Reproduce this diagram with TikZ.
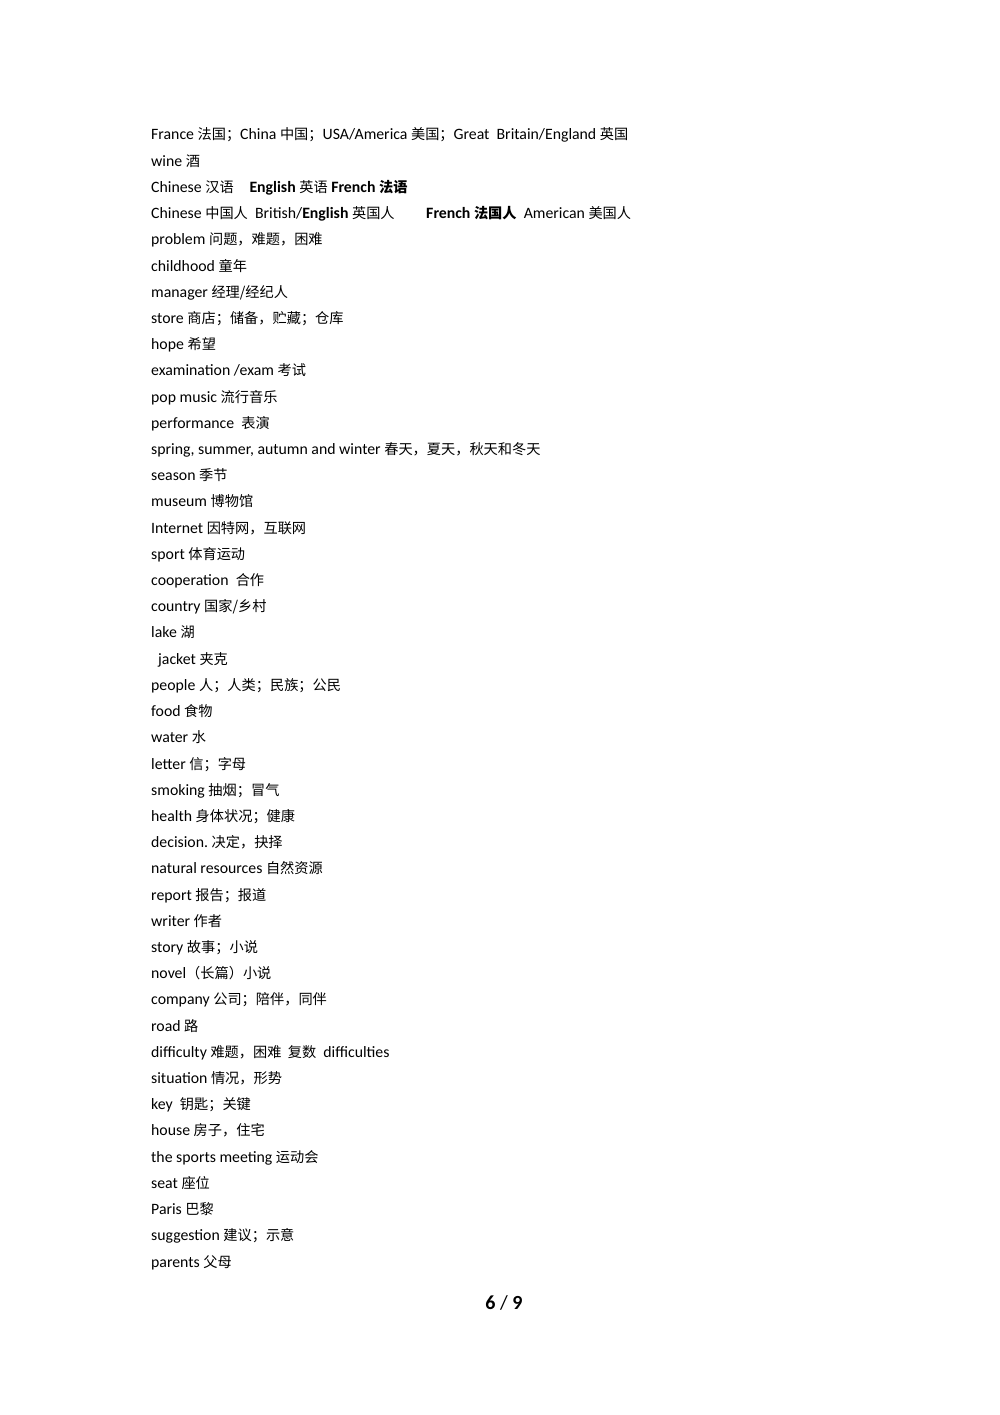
\documentclass[tikz,border=0pt]{standalone}
\usepackage{fontspec}
\setmainfont{Carlito}
\newfontfamily\cjk{Noto Sans CJK SC}
\newcommand{\zh}[1]{{\cjk\fontsize{14.2}{18}\selectfont #1}}
\begin{document}
\begin{tikzpicture}[x=1pt,y=-1pt,
  ln/.style={anchor=base west,inner sep=0pt,font=\fontsize{15.8}{20}\selectfont}]
\useasboundingbox (0,0) rectangle (1000,1415);
\def\Y#1{#1*26.21+140}
\node[ln] (l1) at (151,{\Y{0}}) {France \zh{法国；}China \zh{中国；}USA/America \zh{美国；}Great\ \ Britain/England \zh{英国}};
\node[ln] (l2) at (151,{\Y{1}}) {wine \zh{酒}};
\node[ln] (l3) at (151,{\Y{2}}) {Chinese \zh{汉语}\quad \textbf{English} \zh{英语} \textbf{French \zh{\bfseries 法语}}};
\node[ln] (l4) at (151,{\Y{3}}) {Chinese \zh{中国人}\ \ British/\textbf{English} \zh{英国人}\qquad\textbf{French \zh{\bfseries 法国人}}\ \ American \zh{美国人}};
\node[ln] (l5) at (151,{\Y{4}}) {problem \zh{问题，难题，困难}};
\node[ln] (l6) at (151,{\Y{5}}) {childhood \zh{童年}};
\node[ln] (l7) at (151,{\Y{6}}) {manager \zh{经理/经纪人}};
\node[ln] (l8) at (151,{\Y{7}}) {store \zh{商店；储备，贮藏；仓库}};
\node[ln] (l9) at (151,{\Y{8}}) {hope \zh{希望}};
\node[ln] (l10) at (151,{\Y{9}}) {examination /exam \zh{考试}};
\node[ln] (l11) at (151,{\Y{10}}) {pop music \zh{流行音乐}};
\node[ln] (l12) at (151,{\Y{11}}) {performance\ \ \zh{表演}};
\node[ln] (l13) at (151,{\Y{12}}) {spring, summer, autumn and winter \zh{春天，夏天，秋天和冬天}};
\node[ln] (l14) at (151,{\Y{13}}) {season \zh{季节}};
\node[ln] (l15) at (151,{\Y{14}}) {museum \zh{博物馆}};
\node[ln] (l16) at (151,{\Y{15}}) {Internet \zh{因特网，互联网}};
\node[ln] (l17) at (151,{\Y{16}}) {sport \zh{体育运动}};
\node[ln] (l18) at (151,{\Y{17}}) {cooperation\ \ \zh{合作}};
\node[ln] (l19) at (151,{\Y{18}}) {country \zh{国家/乡村}};
\node[ln] (l20) at (151,{\Y{19}}) {lake \zh{湖}};
\node[ln] (l21) at (158,{\Y{20}}) {jacket \zh{夹克}};
\node[ln] (l22) at (151,{\Y{21}}) {people \zh{人；人类；民族；公民}};
\node[ln] (l23) at (151,{\Y{22}}) {food \zh{食物}};
\node[ln] (l24) at (151,{\Y{23}}) {water \zh{水}};
\node[ln] (l25) at (151,{\Y{24}}) {letter \zh{信；字母}};
\node[ln] (l26) at (151,{\Y{25}}) {smoking \zh{抽烟；冒气}};
\node[ln] (l27) at (151,{\Y{26}}) {health \zh{身体状况；健康}};
\node[ln] (l28) at (151,{\Y{27}}) {decision.\ \zh{决定，抉择}};
\node[ln] (l29) at (151,{\Y{28}}) {natural resources \zh{自然资源}};
\node[ln] (l30) at (151,{\Y{29}}) {report \zh{报告；报道}};
\node[ln] (l31) at (151,{\Y{30}}) {writer \zh{作者}};
\node[ln] (l32) at (151,{\Y{31}}) {story \zh{故事；小说}};
\node[ln] (l33) at (151,{\Y{32}}) {novel\zh{（长篇）小说}};
\node[ln] (l34) at (151,{\Y{33}}) {company \zh{公司；陪伴，同伴}};
\node[ln] (l35) at (151,{\Y{34}}) {road \zh{路}};
\node[ln] (l36) at (151,{\Y{35}}) {difficulty \zh{难题，困难\ \ 复数}\ \ difficulties};
\node[ln] (l37) at (151,{\Y{36}}) {situation \zh{情况，形势}};
\node[ln] (l38) at (151,{\Y{37}}) {key\ \ \zh{钥匙；关键}};
\node[ln] (l39) at (151,{\Y{38}}) {house \zh{房子，住宅}};
\node[ln] (l40) at (151,{\Y{39}}) {the sports meeting \zh{运动会}};
\node[ln] (l41) at (151,{\Y{40}}) {seat \zh{座位}};
\node[ln] (l42) at (151,{\Y{41}}) {Paris \zh{巴黎}};
\node[ln] (l43) at (151,{\Y{42}}) {suggestion \zh{建议；示意}};
\node[ln] (l44) at (151,{\Y{43}}) {parents \zh{父母}};
\node[anchor=base,inner sep=0pt,font=\fontsize{20}{24}\selectfont\bfseries] (pg) at (504,1309) {6 {\mdseries/} 9};
\end{tikzpicture}
\end{document}
